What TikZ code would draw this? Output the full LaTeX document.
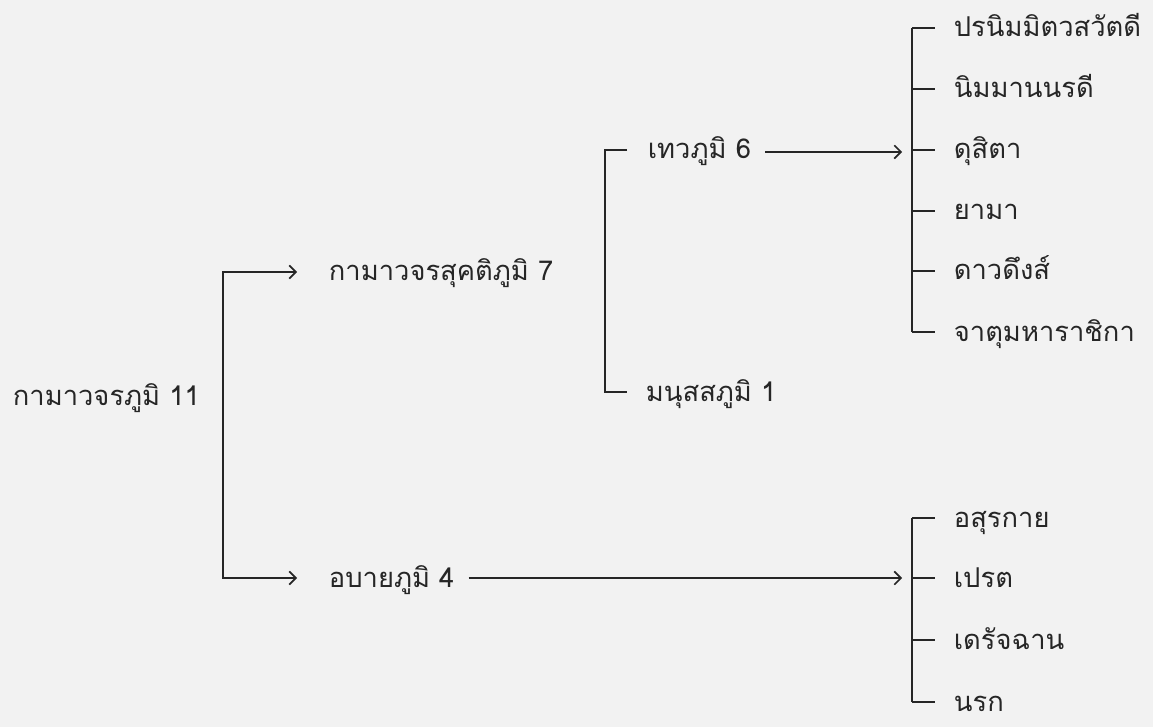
\documentclass[tikz,border=0pt]{standalone}
\usepackage{fontspec}
\newfontfamily\thaifont[Script=Thai]{Loma}
\usetikzlibrary{arrows.meta}

\begin{document}
\begin{tikzpicture}[
		x = 0.75pt, y = -0.75pt,   % one unit = one pixel of the scan
		line width = 1.3pt, color = black!85,
		every node/.style = {anchor = base west, inner sep = 0pt,
			font = \thaifont\fontsize{20.5}{22}\selectfont},
		>={Straight Barb[length=5pt, width=10pt, line width=1.2pt]}
		]
		\fill[black!5] (0,0) rectangle (1153,727);

		% the levels
		\node (Root)   at (12, 405)  {กามาวจรภูมิ 11};
		\node (Sukati) at (328, 281) {กามาวจรสุคติภูมิ 7};
		\node (Abai)   at (328, 587) {อบายภูมิ 4};
		\node (Thewa)  at (647, 159) {เทวภูมิ 6};
		\node (Manut)  at (645, 401) {มนุสสภูมิ 1};

		% the six heavens
		\node (H1) at (953, 37)  {ปรนิมมิตวสวัตดี};
		\node (H2) at (953, 98)  {นิมมานนรดี};
		\node (H3) at (953, 159) {ดุสิตา};
		\node (H4) at (953, 220) {ยามา};
		\node (H5) at (953, 280) {ดาวดึงส์};
		\node (H6) at (953, 341) {จาตุมหาราชิกา};

		% the four woeful states
		\node (W1) at (953, 527) {อสุรกาย};
		\node (W2) at (953, 587) {เปรต};
		\node (W3) at (953, 649) {เดรัจฉาน};
		\node (W4) at (953, 711) {นรก};

		% bracket points
		\coordinate (LTop) at (223, 272);
		\coordinate (LBot) at (223, 578);
		\coordinate (LTopTip) at (297, 272);
		\coordinate (LBotTip) at (297, 578);
		\coordinate (MTop) at (605, 150);
		\coordinate (MBot) at (605, 392);
		\coordinate (HTip) at (902, 152);
		\coordinate (WTip) at (902, 578);

		% left bracket
		\draw[<->] (LTopTip) -- (LTop) -- (LBot) -- (LBotTip);

		% middle bracket
		\draw (Thewa.west |- MTop) ++(-20,0) -- (MTop) -- (MBot) -- ++(22,0);

		% arrows into the right brackets
		\draw[->, shorten <= 10pt] (Thewa.east |- HTip) -- (HTip);
		\draw[->, shorten <= 10pt] (Abai.east |- WTip) -- (WTip);

		% right brackets
		\draw (912, 28) -- (912, 332);
		\foreach \y in {28, 89, 150, 211, 271, 332}
			\draw (912, \y) -- (935, \y);
		\draw (912, 518) -- (912, 702);
		\foreach \y in {518, 578, 640, 702}
			\draw (912, \y) -- (935, \y);
	\end{tikzpicture}
\end{document}
